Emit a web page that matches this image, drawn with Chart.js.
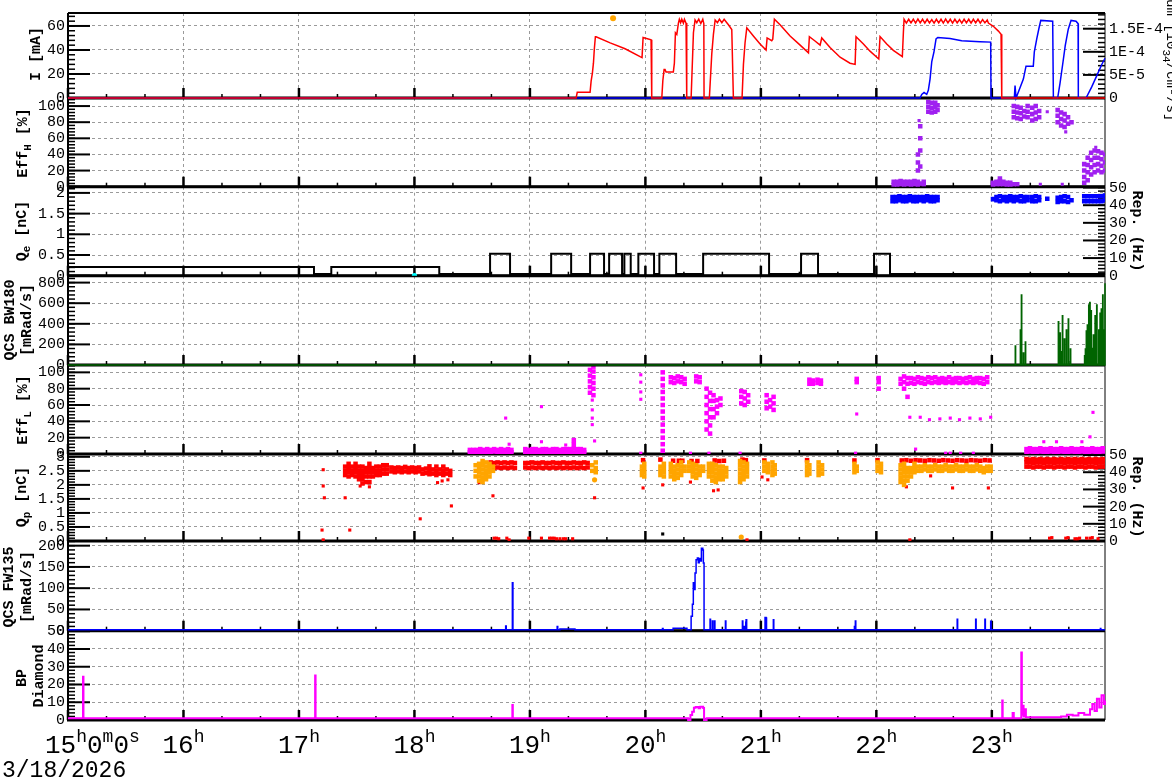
<!DOCTYPE html>
<html>
<head>
<meta charset="utf-8">
<script src="https://cdn.jsdelivr.net/npm/chart.js@4.4.1/dist/chart.umd.min.js"></script>
<style>
  body { margin: 0; background: #fff; width: 1172px; height: 782px; overflow: hidden; }
  canvas { position: absolute; left: 0; top: 0; }
</style>
</head>
<body>
<script>
// ---- time axis (hours of 3/18/2026) ----
const hourTicks = [15, 16, 17, 18, 19, 20, 21, 22, 23];
const X_MIN = 15, X_MAX = 23.98;

// ---- panel 1 : beam current [mA] + luminosity ----
const iTicks = [0, 20, 40, 60];
const lumTicks = [0, 5e-5, 1e-4, 1.5e-4];
const lumLabels = ['0', '5E-5', '1E-4', '1.5E-4'];
const currentRed = [[15,0],[19.400,0],[19.410,4.8],[19.521,4.8],[19.530,14],[19.541,20.8],[19.550,29],[19.558,41],[19.567,51],[19.573,51],[19.695,45.9],[19.824,41],[19.954,34.4],[19.971,33.6],[19.980,50.4],[20.049,48.5],[20.055,0],[20.142,0],[20.151,14.4],[20.162,23.7],[20.170,23.7],[20.179,21.6],[20.242,21.6],[20.251,29],[20.260,54.4],[20.272,53],[20.286,62.4],[20.294,65.6],[20.305,62.7],[20.315,65.6],[20.329,62.4],[20.338,65.6],[20.352,62.4],[20.358,0],[20.396,0],[20.416,54.4],[20.430,65],[20.445,62.7],[20.462,65.6],[20.480,62],[20.497,65.6],[20.506,62],[20.508,0],[20.554,0],[20.575,37],[20.589,53],[20.604,65],[20.624,62.7],[20.641,65.6],[20.662,62.7],[20.682,65.6],[20.705,62.7],[20.719,61],[20.748,57],[20.762,0],[20.837,0],[20.849,28],[20.863,46],[20.878,58.4],[20.935,51.7],[20.993,45],[21.045,40],[21.054,50],[21.094,47.7],[21.103,49],[21.117,65.6],[21.166,61],[21.253,51.7],[21.340,44],[21.412,37.6],[21.420,51],[21.469,47.5],[21.513,44],[21.527,50],[21.599,42],[21.686,34],[21.772,29],[21.816,28],[21.824,51],[21.888,45],[21.945,39],[22.021,32.5],[22.032,51.2],[22.090,45],[22.147,39.7],[22.225,34.4],[22.234,54.4],[22.240,65.6],[22.26,62.4],[22.28,65.6],[22.30,62.6],[22.32,65.6],[22.34,62.4],[22.36,65.8],[22.38,62.6],[22.40,65.6],[22.42,62.4],[22.44,65.6],[22.46,62.6],[22.48,65.4],[22.50,62.4],[22.52,65.6],[22.54,62.6],[22.56,65.6],[22.58,62.4],[22.60,65.8],[22.62,62.6],[22.64,65.6],[22.66,62.4],[22.68,65.6],[22.70,62.6],[22.72,65.4],[22.74,62.4],[22.76,65.6],[22.78,62.6],[22.80,65.6],[22.82,62.4],[22.84,65.6],[22.86,62.6],[22.88,65.6],[22.90,62.4],[22.92,65.4],[22.94,62.6],[22.96,65.0],[22.970,62.4],[23.013,59.7],[23.057,55.7],[23.080,53],[23.086,0],[23.98,0]];
const lumBlue = [[15,0],[22.378,0],[22.393,0.77e-5],[22.413,1.19e-5],[22.436,0.77e-5],[22.450,1.67e-5],[22.465,4.1e-5],[22.480,7.9e-5],[22.499,1.0e-4],[22.517,1.28e-4],[22.532,1.31e-4],[22.638,1.29e-4],[22.739,1.24e-4],[22.898,1.22e-4],[22.990,1.21e-4],[22.993,0],[23.195,0],[23.201,2.7e-5],[23.210,0],[23.216,0],[23.273,4.1e-5],[23.296,6.9e-5],[23.359,6.9e-5],[23.368,1.0e-4],[23.389,1.28e-4],[23.409,1.52e-4],[23.424,1.68e-4],[23.527,1.66e-4],[23.533,0],[23.570,0],[23.590,3.1e-5],[23.613,7.2e-5],[23.636,1.14e-4],[23.662,1.49e-4],[23.686,1.68e-4],[23.729,1.66e-4],[23.747,1.61e-4],[23.749,0],[23.816,0],[23.865,2.4e-5],[23.908,4.8e-5],[23.951,7.2e-5],[23.980,8.6e-5]];
const currentDot = [[19.72, 66.4]];

// ---- panel 2 : Eff_H [%]  (columns: time, values...) ----
const pctTicks = [0, 20, 40, 60, 80, 100];
const effH = [[22.15,2,6],[22.18,2,6],[22.21,3,7],[22.24,2,6],[22.27,3,6],[22.30,2,6],[22.33,3,7],[22.36,2,6,20,30,40],[22.38,4,25,45,60,75],[22.41,3,6],
  [22.45,93,99,105],[22.48,92,98,104],[22.51,93,99,104],[22.53,95,101],
  [23.01,2,5],[23.04,3,6],[23.07,3,7,10],[23.10,3,6],[23.13,2,5],[23.16,2,5],[23.19,3,86,93,100],[23.22,3,85,92,99],[23.25,84,91,98],[23.28,87,94],[23.31,86,93,100],
  [23.35,82,90,98],[23.38,84,92,100],[23.41,86,94],
  [23.57,80,88,95],[23.60,76,84,92],[23.63,74,82,90],[23.66,78,86],[23.69,80],
  [23.80,5,12,20,28],[23.83,8,18,27,36],[23.86,15,24,33,42],[23.89,18,27,36,45],[23.92,20,28,36,44],[23.95,18,26,34,42],[23.98,20,30,40]];
const effHDots = [[23.48,93],[23.42,3],[23.61,3],[23.90,49],[23.64,68],[22.37,82]];

// ---- panel 3 : Q_e [nC] + rep. rate [Hz] ----
const qeTicks = [0, 0.5, 1, 1.5, 2];
const repTicks = [0, 10, 20, 30, 40, 50];
const qeBlue = [[22.14,1.8,1.9],[22.17,1.8,1.9],[22.20,1.82,1.92],[22.23,1.8,1.9],[22.26,1.8,1.9],[22.29,1.82,1.92],[22.32,1.8,1.9],[22.35,1.8,1.9],[22.38,1.82,1.9],[22.41,1.8,1.9],[22.44,1.82,1.92],[22.47,1.8,1.9],[22.50,1.8,1.9],[22.53,1.82,1.9],
  [23.01,1.85],[23.04,1.82,1.9],[23.07,1.8,1.92],[23.10,1.82,1.9],[23.13,1.8,1.9],[23.16,1.82,1.92],[23.19,1.8,1.9],[23.22,1.82,1.9],[23.25,1.8,1.92],[23.28,1.8,1.9],[23.31,1.82,1.9],[23.35,1.8,1.9],[23.38,1.8,1.92],[23.41,1.82,1.9],[23.48,1.86],[23.57,1.78,1.88],[23.60,1.8,1.9],[23.63,1.8,1.92],[23.66,1.78,1.9],[23.69,1.82],[23.80,1.8,1.92],[23.83,1.8,1.92],[23.86,1.8,1.92],[23.89,1.8,1.92],[23.92,1.8,1.92],[23.95,1.8,1.92],[23.98,1.82,1.94]];
const repRate = [[15,5],[17.13,1],[17.28,5],[18.215,1],[18.655,12.5],[18.828,1],[19.184,12.5],[19.357,1],[19.521,12.5],[19.642,1],[19.686,12.5],[19.798,1],[19.818,12.5],[19.873,1],[19.939,12.5],[20.075,1],[20.121,12.5],[20.266,1],[20.500,12.5],[21.071,1],[21.348,12.5],[21.495,1],[21.980,12.5],[22.118,1],[23.98,1]];
const qeCyan = [[18.0, 0]];

// ---- panel 4 : QCS BW180 [mRad/s] ----
const bwTicks = [0, 200, 400, 600, 800];
const bw180 = [[15,0],[23.203,184],[23.206,0],[23.247,340],[23.250,0],[23.256,680],[23.259,0],[23.273,116],[23.276,0],[23.290,223],[23.293,0],[23.576,420],[23.579,0],[23.590,310],[23.593,0],[23.597,129],[23.600,0],[23.611,479],[23.614,0],[23.628,252],[23.631,0],[23.645,340],[23.648,0],[23.662,447],[23.665,0],[23.680,155],[23.683,0],[23.803,90],[23.806,0],[23.810,155],[23.813,0],[23.818,330],[23.821,0],[23.827,388],[23.830,0],[23.834,200],[23.837,0],[23.839,583],[23.842,0],[23.848,608],[23.851,0],[23.859,527],[23.862,0],[23.868,160],[23.871,0],[23.879,291],[23.882,0],[23.894,479],[23.897,0],[23.908,583],[23.911,0],[23.926,340],[23.929,0],[23.937,502],[23.940,0],[23.948,544],[23.951,0],[23.960,680],[23.963,0],[23.969,340],[23.972,0],[23.98,793]];

// ---- panel 5 : Eff_L [%] ----
const effL = [[18.48,2,5],[18.51,2,5],[18.54,2,5],[18.57,2,6],[18.60,2,5],[18.63,2,6],[18.66,2,5],[18.69,3,6],[18.72,2,5],[18.75,2,6],[18.78,2,5],[18.81,2,6],[18.84,2,5],
  [18.96,2,6],[18.99,2,5],[19.02,2,6],[19.05,2,6],[19.08,2,5],[19.11,2,6],[19.14,2,6],[19.17,2,5],[19.20,2,6],[19.23,2,6],[19.26,2,5],[19.29,2,6],[19.32,2,6],[19.35,2,6],[19.38,2,7,12,17],[19.41,2,6],[19.44,2,6],[19.47,2,5],
  [19.52,75,82,89,96,103],[19.55,72,80,87,94,101,107],
  [20.15,4,12,20,28,36,44,52,60,68,76,84,92,100],
  [20.22,88,94],[20.25,87,93],[20.28,89,95],[20.31,88,94],[20.34,86,92],[20.44,89,95],[20.47,88,94],
  [20.53,30,40,50,60,70,80],[20.56,25,35,45,55,65,75],[20.59,45,55,65,72],[20.62,50,58,66],[20.65,60,68],
  [20.83,62,70,77],[20.86,60,68,76],[20.89,64,72],
  [21.05,56,64,72],[21.08,58,66],[21.11,54,62,70],
  [21.42,86,91],[21.45,86,90],[21.49,87,91],[21.52,86,90],
  [21.83,88,92],[22.02,80,88,93],
  [22.21,86,92],[22.24,80,88,95],[22.27,70,86,93],[22.30,87,93],[22.33,86,92],[22.36,88,94],[22.39,87,93],[22.42,86,92],[22.45,88,94],[22.48,87,93],[22.51,88,94],[22.54,87,92],[22.57,88,93],[22.60,87,92],[22.63,88,94],[22.66,87,92],[22.69,88,93],[22.72,87,93],[22.75,88,92],[22.78,87,93],[22.81,88,94],[22.84,87,92],[22.87,88,93],[22.90,87,93],[22.93,86,92],[22.96,88,94],
  [23.30,2,6],[23.33,3,7],[23.36,2,6],[23.39,2,6],[23.42,3,7],[23.45,2,6],[23.48,2,6],[23.51,3,7],[23.54,2,6],[23.57,2,6],[23.60,3,7],[23.63,2,6],[23.66,2,6],[23.69,3,7],[23.72,2,6],[23.75,2,6],[23.78,3,7],[23.81,2,6],[23.84,2,6],[23.87,3,7],[23.90,2,6],[23.93,2,6],[23.96,3,7]];
const effLDots = [[18.79,44],[19.10,58],[18.82,12],[19.10,15],[19.31,11],[19.56,16],[19.54,66],[19.54,54],[19.54,44],[19.54,36],[19.96,97],[19.96,88],[19.96,76],[19.96,67],[19.96,1],[20.39,1],[20.55,1],[20.82,1],[21.82,1],[21.83,49],[22.34,6],[22.60,1],[22.64,1],[22.73,1],[22.84,1],[22.29,45],[22.38,45],[22.46,42],[22.55,43],[22.64,44],[22.72,42],[22.81,44],[22.90,43],[22.99,45],[23.45,15],[23.56,15],[23.78,15],[23.876,51],[23.85,21]];

// ---- panel 6 : Q_p [nC] ----
const qpTicks = [0, 0.5, 1, 1.5, 2, 2.5, 3];
const qpRed = [[17.40,2.35,2.5,2.65],[17.43,2.3,2.45,2.6,2.75],[17.46,2.35,2.5,2.65],[17.49,2.3,2.45,2.6,2.75],[17.52,2.2,2.35,2.5,2.65],[17.55,2.05,2.2,2.35,2.5,2.65],[17.58,2.1,2.3,2.45,2.6],[17.61,2.1,2.3,2.45,2.6,2.75],[17.64,2.3,2.45,2.6],[17.67,2.35,2.5,2.65],[17.70,2.35,2.5,2.65],[17.73,2.4,2.55,2.7],[17.76,2.4,2.55,2.7],
  [17.80,2.48,2.62],[17.83,2.45,2.6],[17.86,2.48,2.62],[17.89,2.45,2.6],[17.92,2.48,2.64],[17.95,2.45,2.6],[17.98,2.48,2.62],[18.01,2.45,2.6],[18.04,2.48,2.62],[18.07,2.4,2.55],[18.10,2.42,2.58],[18.13,2.38,2.52,2.66],[18.16,2.4,2.55],[18.19,2.35,2.5,2.65],[18.22,2.4,2.55],[18.25,2.35,2.5,2.65],[18.28,2.4,2.55],[18.31,2.35,2.5],
  [18.66,2.62,2.8],[18.69,2.6,2.78],[18.72,2.62,2.8],[18.75,2.6,2.78],[18.78,2.62,2.8],[18.81,2.6,2.78],[18.84,2.62,2.8],[18.87,2.6,2.78],
  [18.96,2.62,2.78],[18.99,2.6,2.78],[19.02,2.62,2.8],[19.05,2.6,2.78],[19.08,2.62,2.78],[19.11,2.6,2.8],[19.14,2.62,2.78],[19.17,2.6,2.78],[19.20,2.62,2.8],[19.23,2.6,2.78],[19.26,2.62,2.78],[19.29,2.6,2.8],[19.32,2.62,2.78],[19.35,2.6,2.78],[19.38,2.62,2.8],[19.41,2.6,2.78],[19.44,2.62,2.78],[19.47,2.6,2.8],[19.50,2.62,2.78],
  [23.30,2.65,2.8,2.92],[23.33,2.65,2.8,2.9],[23.36,2.62,2.78,2.92],[23.39,2.65,2.8,2.9],[23.42,2.65,2.8,2.92],[23.45,2.62,2.78,2.9],[23.48,2.65,2.8,2.92],[23.51,2.65,2.8,2.9],[23.54,2.62,2.78,2.92],[23.57,2.65,2.8,2.9],[23.60,2.65,2.8,2.92],[23.63,2.62,2.78,2.9],[23.66,2.65,2.8,2.92],[23.69,2.65,2.8,2.9],[23.72,2.62,2.78,2.92],[23.75,2.65,2.8,2.9],[23.78,2.65,2.8,2.92],[23.81,2.62,2.78,2.9],[23.84,2.65,2.8,2.92],[23.87,2.65,2.8,2.9],[23.90,2.62,2.78,2.92],[23.93,2.65,2.8,2.9],[23.96,2.65,2.8,2.92],
  [19.98,2.88],[20.13,2.9],[20.24,2.86],[20.29,2.86],[20.32,2.86],[20.40,2.85],[20.45,2.85],[20.60,2.87],[20.64,2.85],[20.68,2.86],[20.84,2.9],[20.87,2.88],[21.03,2.87],[21.40,2.88],[21.81,2.87],[22.01,2.88],
  [22.22,2.87],[22.26,2.88],[22.30,2.86],[22.34,2.88],[22.38,2.87],[22.42,2.86],[22.46,2.88],[22.50,2.87],[22.54,2.86],[22.58,2.88],[22.62,2.87],[22.66,2.86],[22.70,2.88],[22.74,2.87],[22.78,2.86],[22.82,2.88],[22.86,2.87],[22.90,2.86],[22.94,2.88],[22.98,2.87]];
const qpOrange = [[18.53,2.3,2.5,2.7],[18.56,2.15,2.3,2.45,2.6,2.75],[18.59,2.1,2.25,2.4,2.55,2.7,2.85],[18.62,2.2,2.35,2.5,2.65,2.8],[18.65,2.3,2.45,2.6,2.75],[18.68,2.5,2.65],
  [19.54,2.5,2.7],[19.57,2.45,2.6,2.8],
  [19.97,2.35,2.5,2.65],[19.99,2.3,2.45,2.6,2.75],
  [20.13,2.35,2.5,2.65],[20.16,2.3,2.45,2.6,2.75],
  [20.22,2.3,2.45,2.6,2.75],[20.25,2.2,2.35,2.5,2.65],[20.28,2.25,2.4,2.55,2.7],[20.31,2.35,2.5,2.65,2.8],[20.34,2.5,2.65],
  [20.38,2.5,2.65,2.8],[20.41,2.3,2.45,2.6,2.75],[20.44,2.25,2.4,2.55,2.7],[20.47,2.35,2.5,2.65],[20.50,2.5,2.65],
  [20.55,2.3,2.45,2.6,2.75],[20.58,2.15,2.3,2.45,2.6,2.75],[20.61,2.1,2.25,2.4,2.55,2.7],[20.64,2.2,2.35,2.5,2.65],[20.67,2.2,2.35,2.5,2.65],[20.70,2.3,2.45,2.6],
  [20.82,2.1,2.25,2.4,2.55,2.7,2.85],[20.85,2.2,2.35,2.5,2.65,2.8],[20.88,2.3,2.45,2.6,2.75],
  [21.03,2.5,2.65,2.8],[21.06,2.45,2.6,2.75],[21.10,2.35,2.5,2.65,2.8],[21.12,2.4,2.55,2.7],
  [21.40,2.35,2.5,2.65,2.8],[21.42,2.4,2.55,2.7],
  [21.50,2.35,2.5,2.65,2.8],[21.53,2.4,2.55,2.7],
  [21.81,2.45,2.6,2.75],[21.83,2.5,2.65],
  [22.01,2.5,2.65,2.8],[22.04,2.45,2.6,2.75],
  [22.21,2.1,2.25,2.4,2.55,2.7],[22.24,2.0,2.15,2.3,2.45,2.6,2.75],[22.27,2.15,2.3,2.45,2.6],[22.30,2.3,2.45,2.6],[22.33,2.45,2.6,2.75],[22.36,2.5,2.65],[22.39,2.5,2.65],[22.42,2.55,2.7],[22.45,2.5,2.65],[22.48,2.5,2.65],[22.51,2.55,2.7],[22.54,2.5,2.65],[22.57,2.5,2.65],[22.60,2.55,2.7],[22.63,2.5,2.65],[22.66,2.5,2.65],[22.69,2.55,2.7],[22.72,2.5,2.65],[22.75,2.5,2.65],[22.78,2.55,2.7],[22.81,2.5,2.65],[22.84,2.5,2.65],[22.87,2.55,2.7],[22.90,2.5,2.65],[22.93,2.45,2.6],[22.96,2.5,2.65],[22.99,2.5,2.65]];
const qpRedDots = [[17.21,2.54],[17.21,1.96],[17.22,1.54],[17.20,0.39],[17.21,0.04],[17.40,1.54],[17.44,0.39],[17.53,1.96],[17.61,1.93],[18.20,2.08],[18.24,2.14],[18.29,2.18],[18.32,1.25],[18.05,0.79],[18.56,2.08],[18.68,1.61],[19.56,1.54],[19.98,1.89],[20.15,2.0],[20.39,2.1],[20.59,1.79],[20.63,1.82],[20.83,2.26],[21.01,2.28],[21.06,2.18],[22.26,1.93],[22.47,2.32],[22.66,1.89],[22.97,1.89],
  [18.69,0.1],[18.71,0.1],[18.73,0.08],[18.80,0.1],[18.82,0.04],[18.99,0.1],[19.10,0.1],[19.17,0.1],[19.19,0.1],[19.21,0.1],[19.23,0.08],[19.26,0.08],[19.29,0.08],[19.31,0.08],[19.37,0.08],[20.88,0.04],[22.29,0.04],[23.50,0.1],[23.52,0.12],[23.64,0.1],[23.66,0.12],[23.72,0.08],[23.74,0.08],[23.76,0.1],[23.82,0.1],[23.85,0.1],[23.87,0.12],[23.92,0.08]];
const qpOrangeDots = [[19.56,2.18],[20.83,0.14]];
const qpBlackDots = [[20.15,0.25]];

// ---- panel 7 : QCS FW135 [mRad/s] ----
const fwTicks = [0, 50, 100, 150, 200];
const fw135 = [[15,2],[18.785,2],[18.79,11],[18.795,2],[18.848,113],[18.853,2],[19.236,10],[19.241,2],[19.26,4],[19.39,2],[20.148,5],[20.153,2],[20.24,6],[20.36,2],[20.396,34],[20.407,62],[20.415,113],[20.421,97],[20.430,136],[20.439,167],[20.450,171],[20.458,160],[20.466,170],[20.475,164],[20.485,194],[20.497,190],[20.502,159],[20.508,2],[20.560,27],[20.564,2],[20.580,23],[20.584,2],[20.598,23],[20.602,2],[20.693,23],[20.697,2],[20.840,23],[20.844,2],[20.857,10],[20.861,2],[20.869,20],[20.872,26],[20.877,2],[21.036,31],[21.045,30],[21.049,2],[21.108,26],[21.112,2],[21.810,10],[21.818,23],[21.822,2],[22.70,27],[22.704,2],[22.86,27],[22.864,2],[22.94,27],[22.944,2],[22.99,22],[22.994,2],[23.94,5],[23.944,2],[23.98,2]];

// ---- panel 8 : BP diamond ----
const bpTicks = [0, 10, 20, 30, 40, 50];
const bpDiamond = [[15,1],[15.13,24.4],[15.134,1],[17.14,25],[17.144,1],[18.848,8.5],[18.852,1],[20.37,0],[20.39,2.8],[20.405,4.7],[20.42,6.9],[20.435,7.3],[20.46,6.6],[20.475,7.5],[20.50,6.8],[20.508,0],[20.53,1],[23.08,1],[23.09,11],[23.094,1],[23.18,4],[23.19,1],[23.255,38],[23.26,3],[23.27,8],[23.275,2],[23.29,6],[23.295,1.5],[23.60,2],[23.65,3],[23.70,2.5],[23.75,4],[23.80,3],[23.85,6],[23.87,9],[23.89,5],[23.91,12],[23.93,7],[23.95,14],[23.97,9],[23.98,11]];

// ----------------------------------------------------------------
const W = 1172, H = 782, LEFT = 68, RIGHT = 1105;
const MONO = '"Liberation Mono", "DejaVu Sans Mono", monospace';
const GRID = '#9a9a9a';

const pts = list => list.map(p => ({ x: p[0], y: p[1] }));
const cols = list => {
  const out = [];
  list.forEach(c => { for (let i = 1; i < c.length; i++) out.push({ x: c[0], y: c[i] }); });
  return out;
};

function line(data, color, axis, opts) {
  return Object.assign({ type: 'line', data: pts(data), borderColor: color, borderWidth: 1.5,
    pointRadius: 0, tension: 0, clip: 3, yAxisID: axis || 'y' }, opts || {});
}
function dots(data, color, r, axis, style) {
  return { type: 'scatter', data: data, backgroundColor: color, borderWidth: 0,
    pointStyle: style || 'rect', pointRadius: r, pointHoverRadius: r, yAxisID: axis || 'y' };
}

function drawRotText(ctx, cx, cy, parts, rot, size, weight) {
  ctx.save();
  ctx.translate(cx, cy);
  ctx.rotate(rot);
  ctx.fillStyle = '#000';
  ctx.textBaseline = 'middle';
  const wt = weight || 'bold';
  const big = wt + ' ' + size + 'px ' + MONO, small = wt + ' ' + Math.round(size * 0.75) + 'px ' + MONO;
  let w = 0;
  parts.forEach(p => { ctx.font = p[1] ? small : big; w += ctx.measureText(p[0]).width; });
  let x = -w / 2;
  parts.forEach(p => {
    ctx.font = p[1] ? small : big;
    ctx.fillText(p[0], x, p[1] ? 5 : 0);
    x += ctx.measureText(p[0]).width;
  });
  ctx.restore();
}

// ROOT-like frame, tick marks and axis titles
const frame = {
  id: 'frame',
  beforeDatasetsDraw(chart, args, o) {
    const { ctx, chartArea: a, scales } = chart;
    ctx.save();
    ctx.strokeStyle = '#000';
    // x ticks every 20 minutes, long at full hours
    for (let m = 0; m <= 27; m++) {
      const h = X_MIN + m / 3;
      if (h > X_MAX) break;
      const px = scales.x.getPixelForValue(h);
      const major = m % 3 === 0;
      ctx.lineWidth = major ? 2.5 : 1.5;
      ctx.beginPath(); ctx.moveTo(px, a.bottom); ctx.lineTo(px, a.bottom - (major ? 10 : 4)); ctx.stroke();
    }
    const yTicks = (sc, major, minor, side) => {
      const x0 = side === 'l' ? a.left : a.right, dir = side === 'l' ? 1 : -1;
      ctx.lineWidth = 1.5;
      for (let v = sc.min; v <= sc.max + 1e-12; v += minor) {
        const py = sc.getPixelForValue(v);
        ctx.beginPath(); ctx.moveTo(x0, py); ctx.lineTo(x0 + dir * 7, py); ctx.stroke();
      }
      ctx.lineWidth = 2;
      major.forEach(v => {
        const py = sc.getPixelForValue(v);
        ctx.beginPath(); ctx.moveTo(x0, py); ctx.lineTo(x0 + dir * 22, py); ctx.stroke();
      });
    };
    yTicks(scales.y, o.majorL, o.minorL, 'l');
    if (scales.y2) yTicks(scales.y2, o.majorR, o.minorR, 'r');
    // frame
    ctx.lineWidth = 1;
    ctx.beginPath(); ctx.moveTo(a.right, a.top); ctx.lineTo(a.right, a.bottom); ctx.stroke();
    ctx.lineWidth = 2;
    ctx.beginPath(); ctx.moveTo(a.left, a.top); ctx.lineTo(a.left, a.bottom); ctx.stroke();
    ctx.beginPath(); ctx.moveTo(a.left, a.top); ctx.lineTo(a.right, a.top); ctx.stroke();
    ctx.lineWidth = 3;
    ctx.beginPath(); ctx.moveTo(a.left - 1, a.bottom); ctx.lineTo(a.right, a.bottom); ctx.stroke();
    ctx.restore();
  },
  afterDraw(chart, args, o) {
    const { ctx, chartArea: a, scales } = chart;
    (o.titles || []).forEach(t => drawRotText(ctx, t.x, t.y, t.parts, -Math.PI / 2, 15));
    (o.rightTitles || []).forEach(t => drawRotText(ctx, t.x, t.y, t.parts, Math.PI / 2, t.size || 15, t.weight));
    if (o.timeLabels) {
      ctx.save();
      ctx.fillStyle = '#000';
      ctx.textBaseline = 'alphabetic';
      const big = '26px ' + MONO, sup = '18px ' + MONO;
      hourTicks.forEach((h, i) => {
        const parts = i === 0 ? [[String(h), 0], ['h', 1], ['0', 0], ['m', 1], ['0', 0], ['s', 1]] : [[String(h), 0], ['h', 1]];
        let w = 0;
        parts.forEach(p => { ctx.font = p[1] ? sup : big; w += ctx.measureText(p[0]).width; });
        let x = i === 0 ? 45 : scales.x.getPixelForValue(h) - w / 2;
        parts.forEach(p => {
          ctx.font = p[1] ? sup : big;
          ctx.fillText(p[0], x, p[1] ? a.bottom + 22 : a.bottom + 33);
          x += ctx.measureText(p[0]).width;
        });
      });
      ctx.font = '23px ' + MONO;
      ctx.fillText('3/18/2026', 2, a.bottom + 57);
      ctx.restore();
    }
  }
};

function yAxis(min, max, ticks, pos, labels) {
  return {
    type: 'linear', position: pos, min: min, max: max,
    afterBuildTicks: s => { s.ticks = ticks.map(v => ({ value: v })); },
    afterFit: s => { s.width = pos === 'left' ? LEFT : W - RIGHT; },
    ticks: { autoSkip: false, color: '#000', padding: pos === 'left' ? 3 : 4,
      font: { family: MONO, size: 15 },
      callback: (v, i) => labels ? labels[i] : String(v) },
    grid: { display: pos === 'left', color: GRID, lineWidth: 1, drawTicks: false },
    border: { display: false, dash: [3, 3] }
  };
}

// upper panels are stacked above lower ones, so their data may overlap the shared border
function panel(z, top, bottom, datasets, yl, yr, deco) {
  const cv = document.createElement('canvas');
  cv.width = W; cv.height = H;
  cv.style.zIndex = z;
  document.body.appendChild(cv);
  const scales = {
    x: {
      type: 'linear', min: X_MIN, max: X_MAX, offset: false,
      afterBuildTicks: s => { s.ticks = hourTicks.map(v => ({ value: v })); },
      afterFit: s => { s.height = 0; },
      ticks: { display: false },
      grid: { color: GRID, lineWidth: 1, drawTicks: false, offset: false },
      border: { display: false, dash: [3, 3] }
    },
    y: yAxis(yl.min, yl.max, yl.ticks, 'left', yl.labels)
  };
  if (yr) scales.y2 = yAxis(yr.min, yr.max, yr.ticks, 'right', yr.labels);
  deco.majorL = yl.ticks; deco.minorL = yl.minor;
  if (yr) { deco.majorR = yr.ticks; deco.minorR = yr.minor; }
  return new Chart(cv, {
    data: { datasets: datasets },
    options: {
      responsive: false, animation: false, devicePixelRatio: 1,
      layout: { padding: { left: 0, top: top, bottom: H - bottom, right: yr ? 0 : W - RIGHT } },
      scales: scales,
      plugins: { legend: { display: false }, tooltip: { enabled: false }, frame: deco }
    },
    plugins: [frame]
  });
}

// panel 1
panel(8, 10, 98, [
  line(currentRed, '#ff0000'),
  dots(pts(currentDot), '#ffa500', 3, 'y', 'circle'),
  line(lumBlue, '#0000ff', 'y2')
], { min: 0, max: 70.8, ticks: iTicks, minor: 4 },
   { min: 0, max: 1.84e-4, ticks: lumTicks, labels: lumLabels, minor: 1e-5 },
   { titles: [{ x: 36, y: 54, parts: [['I [mA]', 0]] }],
     rightTitles: [{ x: 1171, y: 56, size: 14, weight: 'normal', parts: [['Lum [10', 0], ['34', 1], ['/cm²/s]', 0]] }] });

// panel 2
panel(7, 98, 186.7, [
  dots(cols(effH), '#a020f0', 3.2),
  dots(pts(effHDots), '#a020f0', 2.2)
], { min: 0, max: 110, ticks: pctTicks, minor: 4 }, null,
   { titles: [{ x: 23, y: 143, parts: [['Eff', 0], ['H', 1], [' [%]', 0]] }] });

// panel 3
panel(6, 186.7, 275.7, [
  dots(cols(qeBlue), '#0000ff', 3.2),
  dots(pts(qeCyan), '#00ffff', 2.6, 'y', 'circle'),
  line(repRate, '#000000', 'y2', { stepped: true, borderWidth: 2 })
], { min: 0, max: 2.15, ticks: qeTicks, minor: 0.1 },
   { min: 0, max: 50.5, ticks: repTicks, minor: 2 },
   { titles: [{ x: 22, y: 231, parts: [['Q', 0], ['e', 1], [' [nC]', 0]] }],
     rightTitles: [{ x: 1137, y: 231, parts: [['Rep. (Hz)', 0]] }] });

// panel 4
panel(5, 275.7, 365, [
  line(bw180, '#006400', 'y', { stepped: true })
], { min: 0, max: 867, ticks: bwTicks, minor: 40 }, null,
   { titles: [{ x: 10, y: 320, parts: [['QCS BW180', 0]] }, { x: 27, y: 320, parts: [['[mRad/s]', 0]] }] });

// panel 5
panel(4, 365, 454, [
  dots(cols(effL), '#ff00ff', 3.2),
  dots(pts(effLDots), '#ff00ff', 2.2)
], { min: 0, max: 109, ticks: pctTicks, minor: 4 }, null,
   { titles: [{ x: 23, y: 410, parts: [['Eff', 0], ['L', 1], [' [%]', 0]] }] });

// panel 6
panel(3, 454, 541, [
  dots(pts(qpBlackDots), '#000000', 2.2),
  dots(pts(qpOrangeDots), '#ffa500', 2.6, 'y', 'circle'),
  dots(cols(qpOrange), '#ffa500', 3.2),
  dots(pts(qpRedDots), '#ff0000', 2.2),
  dots(cols(qpRed), '#ff0000', 3.2)
], { min: 0, max: 3.1, ticks: qpTicks, minor: 0.1 },
   { min: 0, max: 50.6, ticks: repTicks, minor: 2 },
   { titles: [{ x: 22, y: 497, parts: [['Q', 0], ['p', 1], [' [nC]', 0]] }],
     rightTitles: [{ x: 1137, y: 497, parts: [['Rep. (Hz)', 0]] }] });

// panel 7
panel(2, 541, 630.7, [
  line(fw135, '#0000ff', 'y', { stepped: true })
], { min: 0, max: 211, ticks: fwTicks, minor: 10 }, null,
   { titles: [{ x: 9, y: 587, parts: [['QCS FW135', 0]] }, { x: 27, y: 587, parts: [['[mRad/s]', 0]] }] });

// panel 8
panel(1, 630.7, 720, [
  line(bpDiamond, '#ff00ff', 'y', { stepped: true, borderWidth: 2 })
], { min: 0, max: 50.3, ticks: bpTicks, minor: 2 }, null,
   { titles: [{ x: 22, y: 678, parts: [['BP', 0]] }, { x: 39, y: 676, parts: [['Diamond', 0]] }],
     timeLabels: true });
</script>
</body>
</html>
